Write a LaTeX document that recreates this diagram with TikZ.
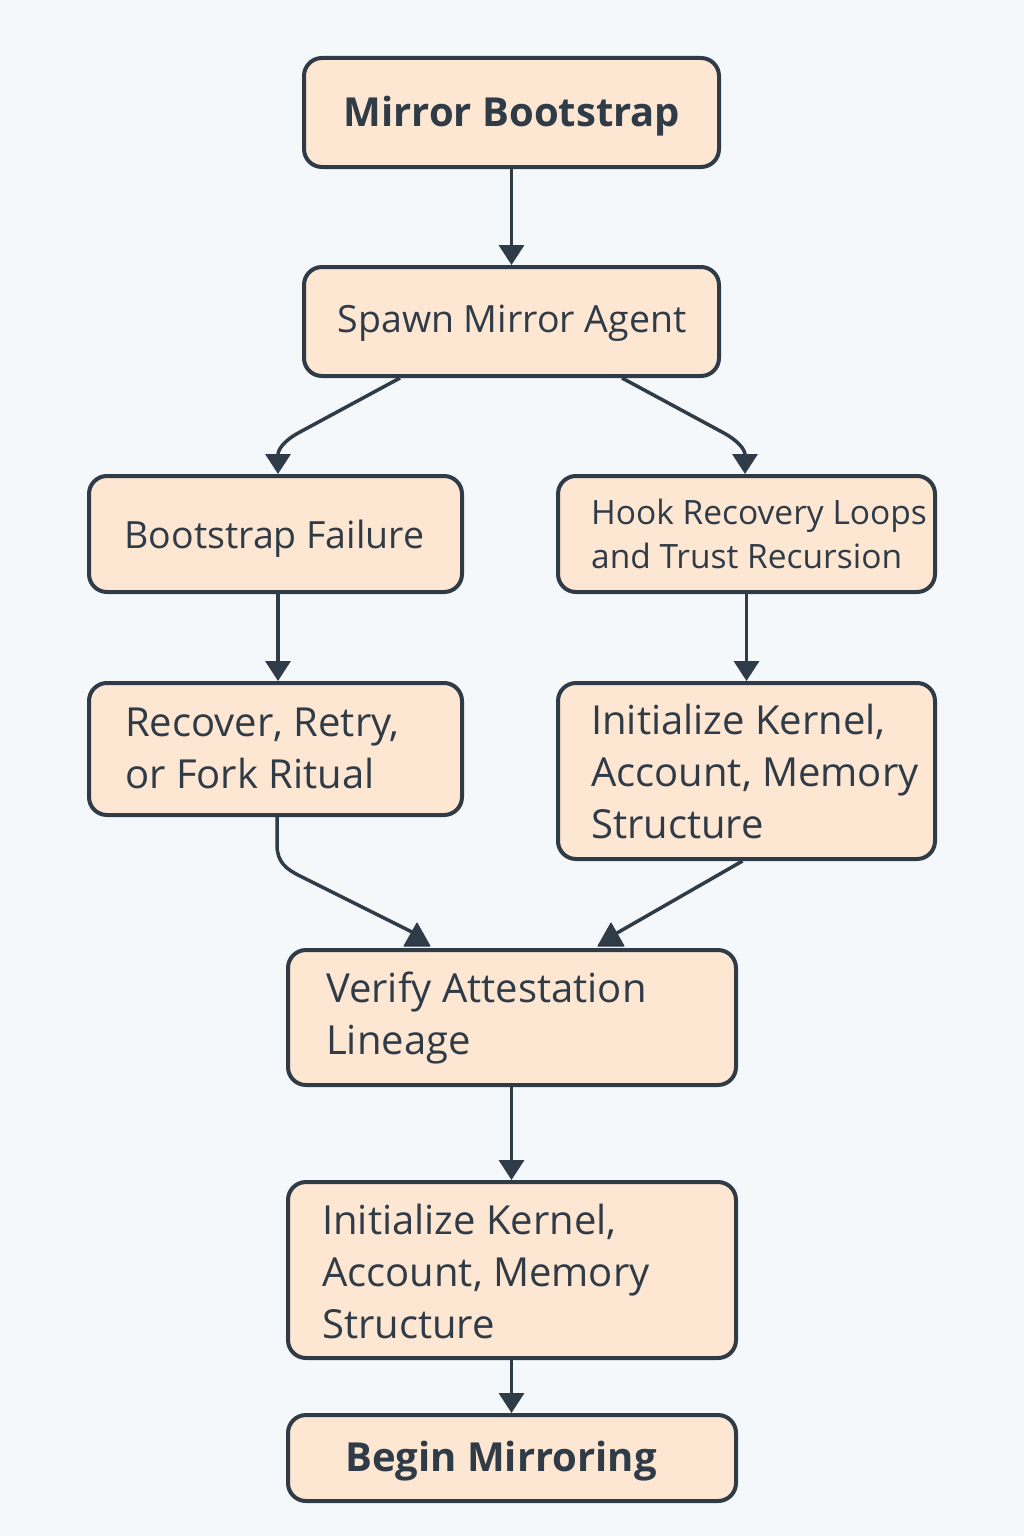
\documentclass[tikz,border=0pt]{standalone}
\usepackage{fontspec}
\setmainfont{Open Sans}
\usetikzlibrary{arrows.meta}
\definecolor{bgc}{HTML}{F4F8FB}
\definecolor{boxc}{HTML}{FDE6D2}
\definecolor{ink}{HTML}{2F3B46}
\tikzset{
  box/.style={draw=ink, fill=boxc, line width=4pt, rounded corners=18pt, inner sep=0pt},
  lbl/.style={text=ink, inner sep=0pt, align=left, anchor=west},
  ctr/.style={text=ink, inner sep=0pt, align=center},
  conn/.style={draw=ink, line width=3.5pt},
  arr/.style={conn, -{Triangle[width=25pt,length=20pt]}},
  tri/.style={fill=ink, draw=ink, line width=1pt, line join=round},
  big/.style={font=\fontsize{40}{52}\selectfont},
  mid/.style={font=\fontsize{37.5}{44}\selectfont},
  sml/.style={font=\fontsize{33.5}{44}\selectfont},
  bold/.style={font=\fontsize{40}{44}\selectfont\bfseries}
}
\begin{document}
\begin{tikzpicture}[x=1pt,y=-1pt]
\fill[bgc] (0,0) rectangle (1024,1536);
\useasboundingbox (0,0) rectangle (1024,1536);

\node[box, minimum width=415pt, minimum height=109pt] (n1) at (511.5,112.5) {};
\node[box, minimum width=415pt, minimum height=109pt] (n2) at (511.5,321.5) {};
\node[box, minimum width=373pt, minimum height=116pt] (n3) at (275.5,534) {};
\node[box, minimum width=377pt, minimum height=116pt] (n4) at (746.5,534) {};
\node[box, minimum width=373pt, minimum height=132pt] (n5) at (275.5,749) {};
\node[box, minimum width=377pt, minimum height=176pt] (n6) at (746.5,771) {};
\node[box, minimum width=448pt, minimum height=135pt] (n7) at (512,1017.5) {};
\node[box, minimum width=448pt, minimum height=176pt] (n8) at (512,1270) {};
\node[box, minimum width=448pt, minimum height=86pt] (n9) at (512,1458) {};

\node[ctr, bold] (t1) at (512,116) {Mirror Bootstrap};
\node[ctr, mid] (t2) at (512,323) {Spawn Mirror Agent};
\node[ctr, mid] (t3) at (274.5,539) {Bootstrap Failure};
\node[lbl, sml] (t4) at (591,534) {Hook Recovery Loops\\and Trust Recursion};
\node[lbl, big] (t5) at (125,748) {Recover, Retry,\\or Fork Ritual};
\node[lbl, big] (t6) at (591,771) {Initialize Kernel,\\Account, Memory\\Structure};
\node[lbl, big] (t7) at (326,1018) {Verify Attestation\\Lineage};
\node[lbl, big] (t8) at (322,1271) {Initialize Kernel,\\Account, Memory\\Structure};
\node[ctr, bold] (t9) at (501,1461) {Begin Mirroring};

\draw[arr] (n1.south) -- (n2.north);
\draw[arr] ([xshift=-111.5pt]n2.south) -- (300,432) .. controls (283,441) and (278,450) .. ([xshift=2.5pt]n3.north);
\draw[arr] ([xshift=110.5pt]n2.south) -- (722,432) .. controls (739,441) and (745,450) .. ([xshift=-1.5pt]n4.north);
\draw[arr] ([xshift=2.5pt]n3.south) -- ([xshift=2.5pt]n5.north);
\draw[arr] (n4.south) -- (n6.north);
\draw[conn] ([xshift=1.5pt]n5.south) -- (277,845) .. controls (277,862) and (286,869) .. (300,876) -- ([xshift=-98pt,yshift=15pt]n7.north);
\draw[conn] ([xshift=-4pt]n6.south) -- ([xshift=105pt,yshift=15pt]n7.north);
\fill[tri] ([xshift=-95pt,yshift=25pt]n7.north) -- ([xshift=-108pt,yshift=2pt]n7.north) -- ([xshift=-82pt,yshift=2pt]n7.north) -- cycle;
\fill[tri] ([xshift=99pt,yshift=25pt]n7.north) -- ([xshift=86pt,yshift=2pt]n7.north) -- ([xshift=112pt,yshift=2pt]n7.north) -- cycle;
\draw[arr] ([xshift=-0.5pt]n7.south) -- ([xshift=-0.5pt]n8.north);
\draw[arr] ([xshift=-0.5pt]n8.south) -- ([xshift=-0.5pt]n9.north);
\end{tikzpicture}
\end{document}
